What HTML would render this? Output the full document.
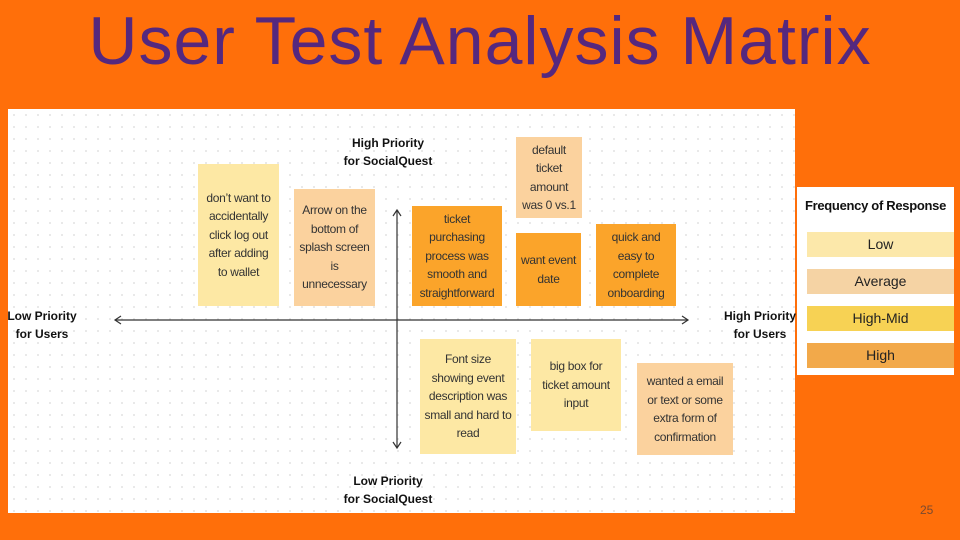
<!DOCTYPE html>
<html><head><style>
body{margin:0;width:960px;height:540px;background:#FF6F0A;position:relative;overflow:hidden;font-family:"Liberation Sans",sans-serif}
.t{position:absolute;left:0;width:960px;top:2px;text-align:center;font-size:68px;color:#55287E;letter-spacing:1px}
.p{position:absolute;left:8px;top:109px;width:787px;height:404px;background-color:#fff;background-image:radial-gradient(#e2e2e2 0.8px,transparent 1px);background-size:12px 12px}
.s{position:absolute;display:flex;align-items:center;justify-content:center;text-align:center;font-size:12px;line-height:18.5px;color:#333;white-space:nowrap;letter-spacing:-0.3px}
.y{background:#FDE8A4}.pe{background:#FBD29E}.o{background:#FBA42A}
.lb{position:absolute;font-size:12px;font-weight:bold;text-align:center;line-height:18px;color:#111;white-space:nowrap}
.lg{position:absolute;left:797px;top:187px;width:157px;height:188px;background:#fff}
.lg div{position:absolute;left:10px;width:147px;height:25px;line-height:25px;text-align:center;font-size:14px;color:#222}
</style></head><body>
<div class="t">User Test Analysis Matrix</div>
<div class="p"></div>
<div class="s y" style="left:198px;top:164px;width:81px;height:142px">don’t want to<br>accidentally<br>click log out<br>after adding<br>to wallet</div>
<div class="s pe" style="left:294px;top:189px;width:81px;height:117px">Arrow on the<br>bottom of<br>splash screen<br>is<br>unnecessary</div>
<div class="s o" style="left:412px;top:206px;width:90px;height:100px">ticket<br>purchasing<br>process was<br>smooth and<br>straightforward</div>
<div class="s pe" style="left:516px;top:137px;width:66px;height:81px">default<br>ticket<br>amount<br>was 0 vs.1</div>
<div class="s o" style="left:516px;top:233px;width:65px;height:73px">want event<br>date</div>
<div class="s o" style="left:596px;top:224px;width:80px;height:82px">quick and<br>easy to<br>complete<br>onboarding</div>
<div class="s y" style="left:420px;top:339px;width:96px;height:115px">Font size<br>showing event<br>description was<br>small and hard to<br>read</div>
<div class="s y" style="left:531px;top:339px;width:90px;height:92px">big box for<br>ticket amount<br>input</div>
<div class="s pe" style="left:637px;top:363px;width:96px;height:92px">wanted a email<br>or text or some<br>extra form of<br>confirmation</div>
<svg style="position:absolute;left:0;top:0" width="960" height="540">
<g stroke="#333" stroke-width="1.2" fill="none">
<line x1="115" y1="320" x2="688" y2="320"/><polyline points="121,316 115,320 121,324"/><polyline points="682,316 688,320 682,324"/>
<line x1="397" y1="210" x2="397" y2="448"/><polyline points="393,216 397,210 401,216"/><polyline points="393,442 397,448 401,442"/>
</g></svg>
<div class="lb" style="left:330px;top:134px;width:116px">High Priority<br>for SocialQuest</div>
<div class="lb" style="left:330px;top:472px;width:116px">Low Priority<br>for SocialQuest</div>
<div class="lb" style="left:2px;top:307px;width:80px">Low Priority<br>for Users</div>
<div class="lb" style="left:720px;top:307px;width:80px">High Priority<br>for Users</div>
<div class="lg">
<span style="position:absolute;left:0;width:157px;top:11px;text-align:center;font-weight:bold;font-size:13px;letter-spacing:-0.3px;white-space:nowrap;color:#111">Frequency of Response</span>
<div style="top:45px;background:#FCE8AA">Low</div>
<div style="top:82px;background:#F5D3A4">Average</div>
<div style="top:119px;background:#F7D254">High-Mid</div>
<div style="top:156px;background:#F2A94A">High</div>
</div>
<div style="position:absolute;left:920px;top:503px;font-size:12px;color:#7a4a30">25</div>
</body></html>
